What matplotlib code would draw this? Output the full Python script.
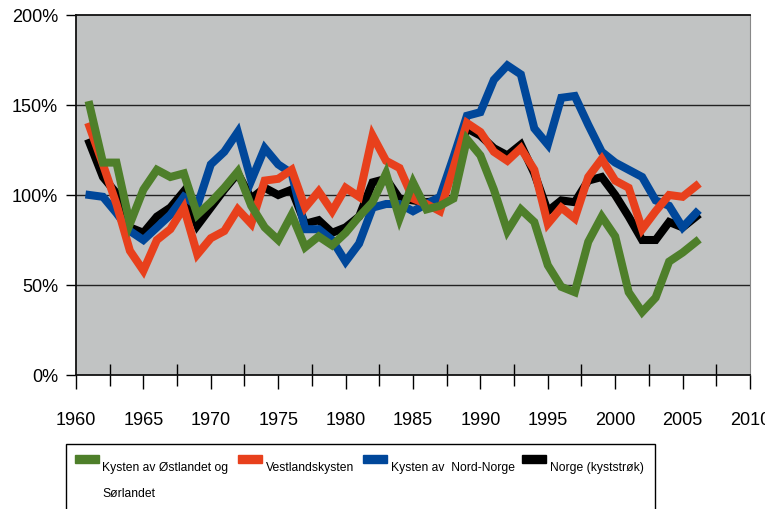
import matplotlib
matplotlib.use("Agg")
import matplotlib.pyplot as plt
from matplotlib.patches import Rectangle

plt.rcParams['font.family'] = ['Liberation Sans', 'DejaVu Sans']

# data (index, % of normal)
years = list(range(1961, 2007))

ostlandet = [150, 118, 118, 84, 103, 114, 110, 112, 89, 96,
             104, 113, 94, 82, 75, 89, 71, 77, 72, 79,
             88, 96, 112, 87, 107, 92, 94, 98, 131, 122,
             103, 80, 92, 85, 61, 49, 46, 74, 88, 77,
             46, 35, 43, 63, 68, 74]
vestland = [138, 117, 95, 69, 58, 75, 81, 93, 67, 76,
            80, 92, 84, 108, 109, 114, 93, 102, 91, 104,
            99, 133, 119, 115, 98, 95, 91, 115, 140, 135,
            124, 119, 126, 114, 84, 93, 87, 110, 120, 108,
            104, 81, 91, 100, 99, 105]
nordnorge = [100, 99, 90, 80, 75, 82, 89, 99, 94, 117,
             124, 135, 108, 126, 117, 112, 81, 81, 75, 63,
             73, 93, 95, 95, 91, 95, 99, 121, 144, 146,
             164, 172, 167, 137, 128, 154, 155, 139, 124, 118,
             114, 110, 97, 94, 82, 90]
norge = [129, 110, 101, 82, 79, 88, 93, 102, 83, 93,
         103, 112, 98, 104, 100, 103, 84, 86, 79, 82,
         88, 107, 109, 98, 97, 96, 97, 118, 137, 133,
         126, 122, 128, 112, 91, 97, 96, 108, 110, 100,
         88, 75, 75, 85, 82, 88]

labels = ["Kysten av Østlandet og\nSørlandet", "Vestlandskysten",
          "Kysten av  Nord-Norge", "Norge (kyststrøk)"]
colors = ['#4E7F2A', '#E8401C', '#00479A', '#000000']
series = [ostlandet, vestland, nordnorge, norge]

fig = plt.figure(figsize=(7.65, 5.10), dpi=100)
ax = fig.add_axes([76/765, (510-376)/510, (750-76)/765, (376-16)/510])
ax.set_facecolor('#C1C3C3')

# black drawn first, green on top
for s, c, z in zip(series, colors, [5, 4, 3, 2]):
    ax.plot(years, s, color=c, lw=5.8, solid_joinstyle='miter', zorder=z)

ax.set_xlim(1960, 2010)
ax.set_ylim(0, 200)

yt = [0, 50, 100, 150, 200]
ax.set_yticks(yt)
ax.set_yticklabels([f'{v}%' for v in yt], fontsize=13)
ax.tick_params(axis='y', direction='out', length=7, width=1, pad=6)
for v in [50, 100, 150]:
    ax.axhline(v, color='#222222', lw=1, zorder=1)

ax.set_xticks(range(1960, 2011, 5))
ax.set_xticklabels([str(y) for y in range(1960, 2011, 5)], fontsize=13)
ax.set_xticks([1962.5 + 5 * i for i in range(10)], minor=True)
ax.tick_params(axis='x', which='major', direction='out', length=10, width=1, pad=16)
ax.tick_params(axis='x', which='minor', direction='inout', length=16, width=1)

for side in ['left', 'bottom', 'top']:
    ax.spines[side].set_color('#111111')
    ax.spines[side].set_linewidth(1.3)
ax.spines['right'].set_color('#888888')

# legend box, drawn by hand like the original
W, H = 765.0, 510.0
fig.patches.append(Rectangle((66/W, -0.05), (655-66)/W, 0.05 + (H-445)/H,
                             transform=fig.transFigure, fill=False,
                             edgecolor='black', lw=1))
sw_x = [75, 238, 363, 522]
tx_x = [102, 266, 391, 550]
for lab, c, sx, tx in zip(labels, colors, sw_x, tx_x):
    fig.patches.append(Rectangle((sx/W, (H-464)/H), 24/W, 8/H,
                                 transform=fig.transFigure, color=c))
    fig.text(tx/W, (H-462)/H, lab, fontsize=8.7, va='top', ha='left',
             linespacing=2.6)

fig.savefig('out.png', dpi=100)
